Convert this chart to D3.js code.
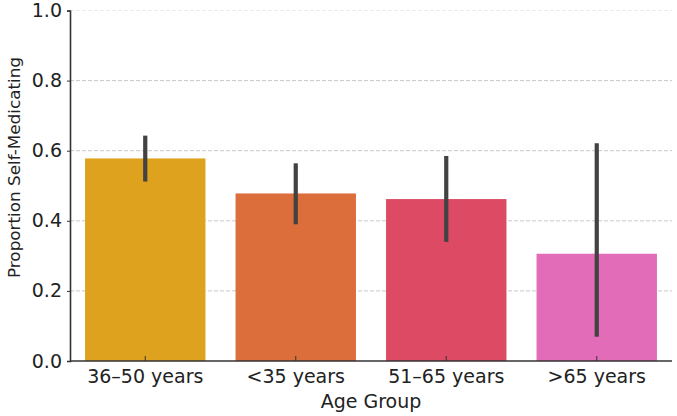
<!DOCTYPE html>
<html>
<head>
<meta charset="utf-8">
<script src="https://cdn.jsdelivr.net/npm/d3@7"></script>
<style>
  body { margin: 0; background: #fff; }
  text { font-family: "DejaVu Sans", sans-serif; fill: #222; }
</style>
</head>
<body>
<div id="chart"></div>
<script>
// Proportion self-medicating by age group, with error bars
const groups = ["36–50 years", "<35 years", "51–65 years", ">65 years"];
const values = [0.578, 0.478, 0.462, 0.306];
const errLow = [0.512, 0.390, 0.340, 0.069];
const errHigh = [0.643, 0.564, 0.585, 0.621];
const colors = ["#dfa21f", "#db6e3a", "#dc4a64", "#e36cb8"];
const yTicks = [0, 0.2, 0.4, 0.6, 0.8, 1.0];

const width = 677;
const height = 416;
const margin = { top: 10.5, right: 5, bottom: 55, left: 70 };

const svg = d3.select("#chart")
  .append("svg")
  .attr("width", width)
  .attr("height", height);

const x = d3.scaleBand()
  .domain(groups)
  .range([margin.left, width - margin.right])
  .paddingInner(0.2)
  .paddingOuter(0.1);

const y = d3.scaleLinear()
  .domain([0, 1])
  .range([height - margin.bottom, margin.top]);

// grid
svg.append("g")
  .selectAll("line")
  .data(yTicks.filter(d => d > 0))
  .enter()
  .append("line")
  .attr("x1", margin.left)
  .attr("x2", width - margin.right)
  .attr("y1", d => y(d))
  .attr("y2", d => y(d))
  .attr("stroke", d => d === 1 ? "#ececec" : "#c8c8c8")
  .attr("stroke-width", 1)
  .attr("stroke-dasharray", "4,2");

// bars
svg.selectAll(".bar")
  .data(groups)
  .enter()
  .append("rect")
  .attr("class", "bar")
  .attr("x", d => x(d))
  .attr("y", (d, i) => y(values[i]))
  .attr("width", x.bandwidth())
  .attr("height", (d, i) => y(0) - y(values[i]))
  .attr("fill", (d, i) => colors[i]);

// error bars
svg.selectAll(".err")
  .data(groups)
  .enter()
  .append("line")
  .attr("class", "err")
  .attr("x1", d => x(d) + x.bandwidth() / 2)
  .attr("x2", d => x(d) + x.bandwidth() / 2)
  .attr("y1", (d, i) => y(errLow[i]))
  .attr("y2", (d, i) => y(errHigh[i]))
  .attr("stroke", "#424242")
  .attr("stroke-width", 4.2);

// axes
const xAxis = svg.append("g")
  .attr("transform", `translate(0,${y(0)})`)
  .call(d3.axisBottom(x).tickSize(-5).tickPadding(8.5));
xAxis.select(".domain")
  .attr("d", `M${margin.left},0H${width - margin.right}`);

const yAxis = svg.append("g")
  .attr("transform", `translate(${margin.left},0)`)
  .call(d3.axisLeft(y).tickValues(yTicks).tickFormat(d3.format(".1f")).tickSize(3).tickPadding(5));

[xAxis, yAxis].forEach(g => {
  g.select(".domain").attr("stroke", "#333").attr("stroke-width", 1.6);
  g.selectAll(".tick line").attr("stroke", "#333").attr("stroke-width", 1);
  g.selectAll(".tick text")
    .style("font-family", "DejaVu Sans, sans-serif")
    .style("font-size", "19px")
    .attr("fill", "#222");
});

// axis titles
svg.append("text")
  .attr("x", (margin.left + width - margin.right) / 2)
  .attr("y", 408)
  .attr("text-anchor", "middle")
  .style("font-size", "19px")
  .text("Age Group");

svg.append("text")
  .attr("transform", "rotate(-90)")
  .attr("x", -167.5)
  .attr("y", 20)
  .attr("text-anchor", "middle")
  .style("font-size", "16.7px")
  .attr("textLength", 221)
  .attr("lengthAdjust", "spacingAndGlyphs")
  .text("Proportion Self-Medicating");
</script>
</body>
</html>
